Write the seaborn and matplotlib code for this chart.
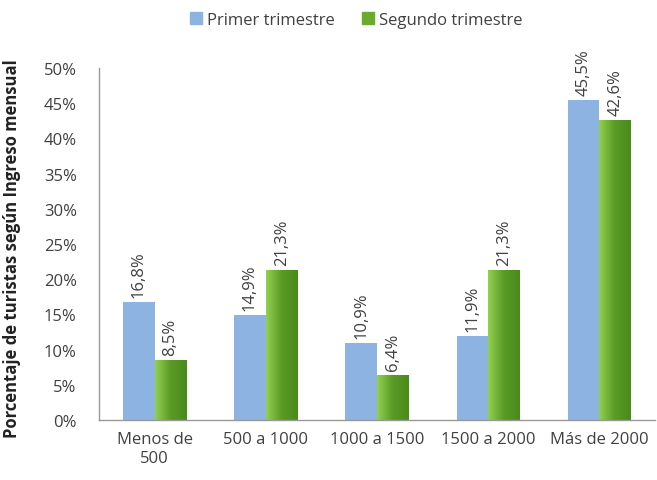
import matplotlib
matplotlib.use('Agg')
import matplotlib.pyplot as plt
import seaborn as sns
import numpy as np
import pandas as pd

categorias = ['Menos de\n500', '500 a 1000', '1000 a 1500', '1500 a 2000', 'Más de 2000']
primer = [16.8, 14.9, 10.9, 11.9, 45.5]
segundo = [8.5, 21.3, 6.4, 21.3, 42.6]
series = ['Primer trimestre', 'Segundo trimestre']

df = pd.DataFrame({
    'cat': categorias * 2,
    'valor': primer + segundo,
    'serie': [series[0]] * 5 + [series[1]] * 5,
})

sns.set_style('white')
plt.rcParams['font.family'] = ['Open Sans', 'DejaVu Sans']
gris = '#404040'

fig = plt.figure(figsize=(6.57, 4.81), dpi=100)
ax = fig.add_axes([99 / 657, 60 / 481, 556 / 657, 352 / 481])

sns.barplot(data=df, x='cat', y='valor', hue='serie', order=categorias,
            palette=['#8db3e2', '#6aab2e'], width=0.57, saturation=1,
            linewidth=0, ax=ax, legend=False)

# degradado en las barras verdes
cmap = matplotlib.colors.LinearSegmentedColormap.from_list('v', ['#92d050', '#5a9a25', '#4a8a1c'])
grad = np.linspace(0, 1, 64).reshape(1, -1)
for p in ax.containers[1]:
    x0, y0 = p.get_x(), p.get_y()
    w, h = p.get_width(), p.get_height()
    im = ax.imshow(grad, cmap=cmap, extent=[x0, x0 + w, y0, y0 + h],
                   aspect='auto', zorder=p.get_zorder() + 0.1)
    im.set_clip_path(p)

for cont in ax.containers:
    for p in cont:
        v = p.get_height()
        ax.text(p.get_x() + p.get_width() / 2, v + 0.7,
                f'{v:.1f}%'.replace('.', ','), rotation=90,
                ha='center', va='bottom', fontsize=12, color=gris)

ax.set_xlim(-0.5, 4.5)
ax.set_ylim(0, 50)
ax.set_yticks(np.arange(0, 51, 5))
ax.set_yticklabels([f'{t}%' for t in range(0, 51, 5)])
ax.tick_params(axis='y', labelsize=12, colors=gris, length=0, pad=16)
ax.tick_params(axis='x', labelsize=12, colors=gris, length=0, pad=8)
ax.set_xlabel('')
ax.set_ylabel('Porcentaje de turistas según Ingreso mensual', fontsize=12,
              fontweight='bold', color='#222222')
ax.yaxis.set_label_coords(-0.14, 0.49)
for s in ['top', 'right']:
    ax.spines[s].set_visible(False)
for s in ['left', 'bottom']:
    ax.spines[s].set_color('#999999')
    ax.spines[s].set_linewidth(1)

handles = [matplotlib.patches.Patch(color='#8db3e2'), matplotlib.patches.Patch(color='#6aab2e')]
fig.legend(handles, series, loc='upper center', bbox_to_anchor=(0.542, 1.005), ncol=2,
           frameon=False, fontsize=12, handlelength=0.75, handleheight=0.75,
           columnspacing=1.6, handletextpad=0.3, labelcolor=gris)

fig.savefig('out.png', dpi=100)
